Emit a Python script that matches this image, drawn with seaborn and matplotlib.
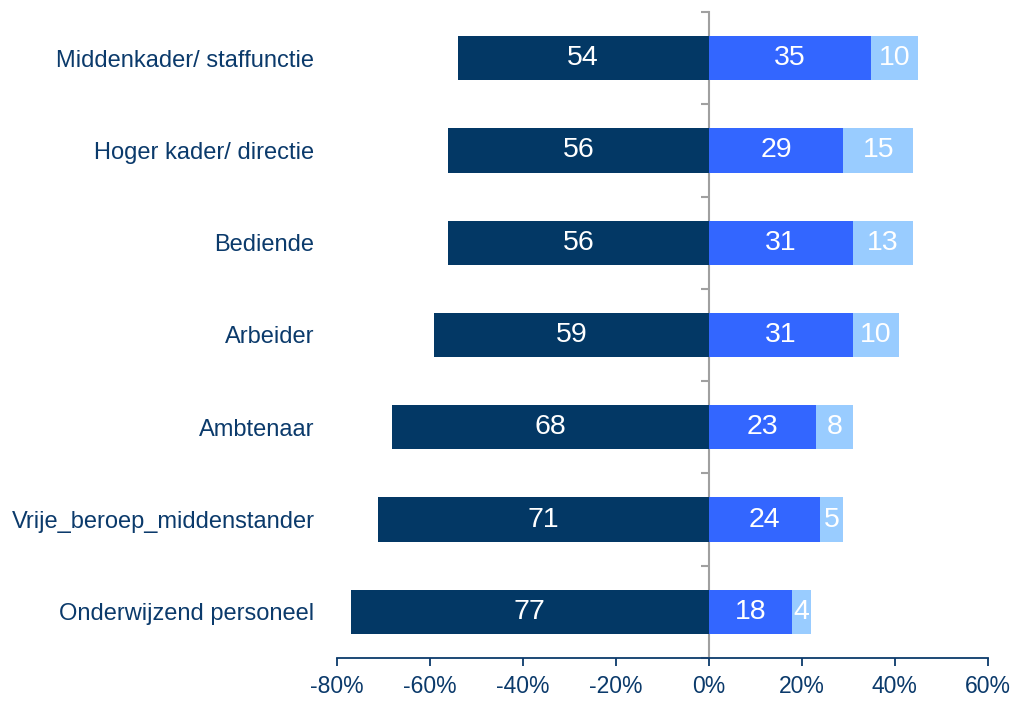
import numpy as np
import pandas as pd
import matplotlib
matplotlib.use("Agg")
import matplotlib.pyplot as plt
import seaborn as sns

# ── Data ──
categories = [
    "Middenkader/ staffunctie",
    "Hoger kader/ directie",
    "Bediende",
    "Arbeider",
    "Ambtenaar",
    "Vrije_beroep_middenstander",
    "Onderwijzend personeel",
]
neg_values = [54, 56, 56, 59, 68, 71, 77]
mid_values = [35, 29, 31, 31, 23, 24, 18]
light_values = [10, 15, 13, 10, 8, 5, 4]
x_ticks = [-80, -60, -40, -20, 0, 20, 40, 60]

NAVY = "#033865"
BLUE = "#3366FF"
LIGHT = "#99CCFF"
TEXT = "#0B3A6B"
GRAY = "#A0A0A0"

df = pd.DataFrame({
    "cat": categories,
    "neg": -np.array(neg_values),
    "mid": mid_values,
    "total": np.array(mid_values) + np.array(light_values),
    "light": light_values,
})

sns.set_style("white")
plt.rcParams["font.family"] = ["Liberation Sans", "DejaVu Sans"]

fig = plt.figure(figsize=(10.14, 7.06), dpi=100)
ax = fig.add_axes([0.332, 0.068, 0.642, 0.915])

bw = 0.48
sns.barplot(data=df, y="cat", x="total", color=LIGHT, width=bw, ax=ax,
            saturation=1, orient="h")
sns.barplot(data=df, y="cat", x="mid", color=BLUE, width=bw, ax=ax,
            saturation=1, orient="h")
sns.barplot(data=df, y="cat", x="neg", color=NAVY, width=bw, ax=ax,
            saturation=1, orient="h")
for p in ax.patches:
    p.set_linewidth(0)

# segment labels
lab_kw = dict(ha="center", va="center", color="white", fontsize=20.5)
for i, row in df.iterrows():
    ax.text(row["neg"] / 2, i, f"{-row['neg']}", **lab_kw)
    ax.text(row["mid"] / 2, i, f"{row['mid']}", **lab_kw)
    ax.text(row["mid"] + row["light"] / 2, i, f"{row['light']}", **lab_kw)

ax.set_xlim(-80, 60)
ax.set_ylim(6.5, -0.5)
ax.set_xticks(x_ticks)
ax.set_xticklabels([f"{t}%" for t in x_ticks])
ax.set_xlabel("")
ax.set_ylabel("")

for s in ["top", "right", "left"]:
    ax.spines[s].set_visible(False)
ax.spines["bottom"].set_color(TEXT)
ax.spines["bottom"].set_linewidth(1.3)
ax.tick_params(axis="x", colors=TEXT, labelsize=16.5, length=6, width=1.3,
               direction="out", pad=6)
ax.tick_params(axis="y", colors=TEXT, labelsize=17, length=0, pad=16)
ax.xaxis.set_ticks_position("bottom")

# zero line with category-boundary ticks
xmin, xmax = ax.get_xlim()
sec = ax.secondary_yaxis((0 - xmin) / (xmax - xmin))
sec.set_alignment("left")
sec.set_yticks(np.arange(-0.5, len(categories), 1.0))
sec.set_yticklabels([])
for s in sec.spines.values():
    s.set_color(GRAY)
    s.set_linewidth(1.5)
sec.tick_params(axis="y", which="both", colors=GRAY, length=6,
                width=1.5, direction="out", left=True, right=False)

fig.savefig("out.png", dpi=100)
plt.close(fig)
